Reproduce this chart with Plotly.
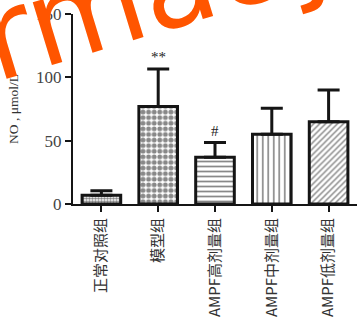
import plotly.graph_objects as go

# Group labels and NO measurements (mean and upper SD)
groups = ["正常对照组", "模型组", "AMPF高剂量组", "AMPF中剂量组", "AMPF低剂量组"]
no_mean = [7, 77, 37, 55, 65]
no_sd = [3.5, 29.5, 11.5, 20.5, 25]
sig_marks = ["", "**", "#", "", ""]

# Fill pattern per group
pattern_shapes = [".", ".", "-", "|", "/"]
pattern_sizes = [3, 5.6, 5, 5.5, 4.2]
pattern_solid = [0.55, 0.6, 0.35, 0.3, 0.35]

serif = "Liberation Serif, Times New Roman, serif"
cjk = "Noto Sans CJK SC, Liberation Serif, serif"

fig = go.Figure()
fig.add_trace(go.Bar(
    x=groups,
    y=no_mean,
    width=0.68,
    marker=dict(
        color="white",
        line=dict(color="#151515", width=3),
        pattern=dict(shape=pattern_shapes, size=pattern_sizes,
                     solidity=pattern_solid, fgcolor="#111111",
                     bgcolor="white", fillmode="overlay"),
    ),
    error_y=dict(type="data", symmetric=False, array=no_sd,
                 arrayminus=[0] * len(no_sd), color="#151515",
                 thickness=3, width=11),
    showlegend=False,
))

# Significance markers above the error bars
for g, m, s, mark in zip(groups, no_mean, no_sd, sig_marks):
    if mark:
        fig.add_annotation(x=g, y=m + s, text=mark, showarrow=False,
                           yanchor="bottom", yshift=2,
                           font=dict(family=serif, size=15, color="#222"))

# Watermark text
fig.add_annotation(xref="paper", yref="paper", x=0.32, y=1.14,
                   text="rmacy", showarrow=False, textangle=-17,
                   xanchor="center", yanchor="middle",
                   font=dict(family="DejaVu Sans, sans-serif",
                             size=120, color="#FF5500"))

fig.update_layout(
    width=357, height=322,
    margin=dict(l=73, r=0, t=14, b=118),
    paper_bgcolor="white", plot_bgcolor="white",
    bargap=0.3,
)
fig.update_xaxes(
    showline=True, linecolor="#151515", linewidth=2,
    ticks="outside", ticklen=6, tickwidth=2, tickcolor="#151515",
    tickangle=-90,
    tickfont=dict(family=cjk, size=15, color="#333"),
    showgrid=False, range=[-0.5, 4.5],
)
fig.update_yaxes(
    range=[0, 150], tickvals=[0, 50, 100, 150],
    showline=True, linecolor="#151515", linewidth=2,
    ticks="outside", ticklen=6, tickwidth=2, tickcolor="#151515",
    tickfont=dict(family=serif, size=17, color="#444"),
    showgrid=False, zeroline=False,
    title=dict(text="NO , μmol/L", font=dict(family=serif, size=13.5, color="#333"),
               standoff=14),
)

fig.write_html("out.html")
